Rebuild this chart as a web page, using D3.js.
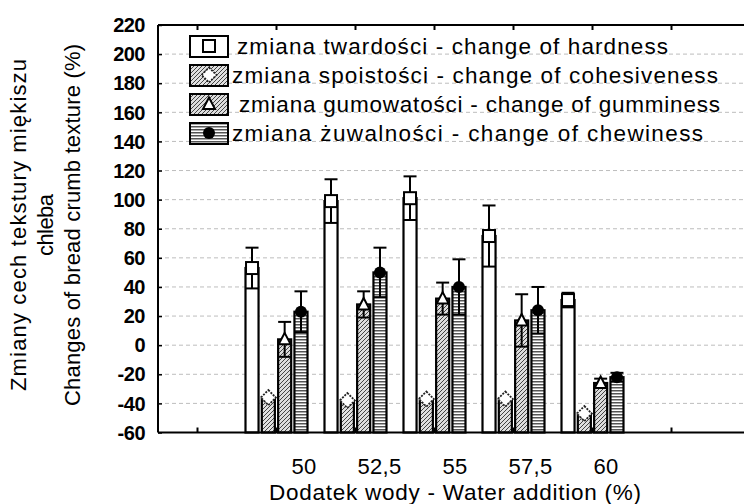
<!DOCTYPE html>
<html>
<head>
<meta charset="utf-8">
<script src="https://cdn.jsdelivr.net/npm/d3@7"></script>
<style>
  body { margin: 0; background: #fff; }
  svg { display: block; font-family: Arial, "Liberation Sans", sans-serif; }
</style>
</head>
<body>
<script>
const categories = ["50", "52,5", "55", "57,5", "60"];
const slots = ["", "50", "52,5", "55", "57,5", "60", " "];
const seriesNames = [
    "zmiana twardości - change of hardness",
    "zmiana spoistości - change of cohesiveness",
    "zmiana gumowatości - change of gumminess",
    "zmiana żuwalności - change of chewiness"
];
const hardness = [53, 99, 101, 75, 31];
const hardnessErr = [14, 15, 15, 21, 5];
const cohesiveness = [-36, -38, -37, -37, -47];
const cohesivenessErr = [0, 0, 0, 0, 0];
const gumminess = [4, 28, 32, 17, -26];
const gumminessErr = [12, 9, 11, 18, 3];
const chewiness = [23, 50, 40, 24, -22];
const chewinessErr = [14, 17, 19, 16, 3];
const yTicks = [-60, -40, -20, 0, 20, 40, 60, 80, 100, 120, 140, 160, 180, 200, 220];

const W = 744, H = 504;
const plotLeft = 158, plotTop = 25, plotBottom = 432.5;

const svg = d3.select("body").append("svg")
    .attr("width", W)
    .attr("height", H);

const defs = svg.append("defs");

// fine diagonal hatch (spoistość)
const p1 = defs.append("pattern").attr("id", "hatch1")
    .attr("patternUnits", "userSpaceOnUse").attr("width", 4).attr("height", 4);
p1.append("rect").attr("width", 4).attr("height", 4).attr("fill", "#e0e0e0");
p1.append("path").attr("d", "M-1,1 L1,-1 M0,4 L4,0 M3,5 L5,3")
    .attr("stroke", "#444").attr("stroke-width", 1);

// fine diagonal hatch (gumowatość)
const p2 = defs.append("pattern").attr("id", "hatch2")
    .attr("patternUnits", "userSpaceOnUse").attr("width", 4).attr("height", 4);
p2.append("rect").attr("width", 4).attr("height", 4).attr("fill", "#dcdcdc");
p2.append("path").attr("d", "M-1,1 L1,-1 M0,4 L4,0 M3,5 L5,3")
    .attr("stroke", "#444").attr("stroke-width", 1);

// horizontal stripes (żuwalność)
const p3 = defs.append("pattern").attr("id", "stripes")
    .attr("patternUnits", "userSpaceOnUse").attr("width", 6).attr("height", 3);
p3.append("rect").attr("width", 6).attr("height", 3).attr("fill", "#fff");
p3.append("rect").attr("width", 6).attr("height", 1.5).attr("fill", "#555");

const series = [
    { name: seriesNames[0], values: hardness, err: hardnessErr, fill: "#fff", marker: "square" },
    { name: seriesNames[1], values: cohesiveness, err: cohesivenessErr, fill: "url(#hatch1)", marker: "diamond" },
    { name: seriesNames[2], values: gumminess, err: gumminessErr, fill: "url(#hatch2)", marker: "triangle" },
    { name: seriesNames[3], values: chewiness, err: chewinessErr, fill: "url(#stripes)", marker: "circle" }
];

const x = d3.scaleBand()
    .domain(slots)
    .range([plotLeft, plotLeft + 7 * 79]);

const xSub = d3.scaleBand()
    .domain(d3.range(series.length))
    .range([-31, 31])
    .paddingInner(0.2);

const y = d3.scaleLinear()
    .domain([-60, 220])
    .range([plotBottom, plotTop]);

const xLabel = d3.scalePoint()
    .domain(categories)
    .range([304, 606]);

// gridlines
svg.append("g")
    .selectAll("line")
    .data(yTicks.filter(d => d > -60 && d < 220))
    .join("line")
    .attr("x1", plotLeft)
    .attr("x2", W)
    .attr("y1", d => y(d))
    .attr("y2", d => y(d))
    .attr("stroke", "#bdbdbd")
    .attr("stroke-width", 1)
    .attr("stroke-dasharray", "4,3");

// markers
function drawMarker(g, type, cx, cy) {
    if (type === "square") {
        g.append("rect")
            .attr("x", cx - 6).attr("y", cy - 6)
            .attr("width", 12).attr("height", 12)
            .attr("fill", "#fff").attr("stroke", "#000").attr("stroke-width", 2);
    } else if (type === "diamond") {
        g.append("path")
            .attr("d", `M${cx},${cy - 7.5} L${cx + 7.5},${cy} L${cx},${cy + 7.5} L${cx - 7.5},${cy} Z`)
            .attr("fill", "#fff").attr("stroke", "#222").attr("stroke-width", 1.8)
            .attr("stroke-dasharray", "2,1.2");
    } else if (type === "triangle") {
        g.append("path")
            .attr("d", `M${cx},${cy - 6.5} L${cx + 6},${cy + 5} L${cx - 6},${cy + 5} Z`)
            .attr("fill", "#fff").attr("stroke", "#000").attr("stroke-width", 2);
    } else {
        g.append("circle")
            .attr("cx", cx).attr("cy", cy).attr("r", 6)
            .attr("fill", "#000");
    }
}

// bars
const plot = svg.append("g");
series.forEach((s, si) => {
    const rows = categories.map((c, i) => ({ cat: c, v: s.values[i], e: s.err[i] }));
    const g = plot.append("g");
    g.selectAll("rect")
        .data(rows)
        .join("rect")
        .attr("x", d => x(d.cat) + x.bandwidth() / 2 + xSub(si))
        .attr("y", d => y(d.v))
        .attr("width", xSub.bandwidth())
        .attr("height", d => y(-60) - y(d.v))
        .attr("fill", s.fill)
        .attr("stroke", "#000")
        .attr("stroke-width", 2.2);

    rows.forEach(d => {
        const cx = x(d.cat) + x.bandwidth() / 2 + xSub(si) + xSub.bandwidth() / 2;
        if (d.e > 0) {
            const eg = g.append("g").attr("stroke", "#000").attr("stroke-width", 2);
            eg.append("line").attr("x1", cx).attr("x2", cx)
                .attr("y1", y(d.v + d.e)).attr("y2", y(d.v - d.e));
            [d.v + d.e, d.v - d.e].forEach(v => {
                eg.append("line").attr("x1", cx - 6.5).attr("x2", cx + 6.5)
                    .attr("y1", y(v)).attr("y2", y(v));
            });
        }
        drawMarker(g, s.marker, cx, y(d.v));
    });
});

// frame
const frame = svg.append("g").attr("stroke", "#000").attr("stroke-width", 2);
frame.append("line").attr("x1", plotLeft).attr("x2", W).attr("y1", plotTop).attr("y2", plotTop);
frame.append("line").attr("x1", plotLeft).attr("x2", W).attr("y1", plotBottom).attr("y2", plotBottom);
frame.append("line").attr("x1", plotLeft).attr("x2", plotLeft).attr("y1", plotTop).attr("y2", plotBottom);

// x ticks top and bottom (inward)
slots.forEach(s => {
    const cx = x(s) + x.bandwidth() / 2;
    frame.append("line").attr("x1", cx).attr("x2", cx).attr("y1", plotTop).attr("y2", plotTop + 5);
    frame.append("line").attr("x1", cx).attr("x2", cx).attr("y1", plotBottom).attr("y2", plotBottom - 5);
});

// y axis
svg.append("g")
    .attr("transform", `translate(${plotLeft},0)`)
    .call(d3.axisRight(y).tickValues(yTicks).tickSize(4).tickFormat(""))
    .call(g => g.select(".domain").remove())
    .call(g => g.selectAll("line").attr("stroke-width", 1.5));

svg.append("g")
    .selectAll("text")
    .data(yTicks)
    .join("text")
    .attr("x", 145)
    .attr("y", d => y(d))
    .attr("dy", "0.36em")
    .attr("text-anchor", "end")
    .attr("font-size", 20)
    .attr("font-weight", "bold")
    .attr("letter-spacing", -0.5)
    .text(d => d);

// x labels
svg.append("g")
    .selectAll("text")
    .data(categories)
    .join("text")
    .attr("x", d => xLabel(d))
    .attr("y", 466)
    .attr("dy", "0.35em")
    .attr("text-anchor", "middle")
    .attr("font-size", 22)
    .attr("letter-spacing", 0.3)
    .text(d => d);

svg.append("text")
    .attr("x", 455)
    .attr("y", 492)
    .attr("dy", "0.35em")
    .attr("text-anchor", "middle")
    .attr("font-size", 22.5)
    .attr("textLength", 372)
    .attr("lengthAdjust", "spacing")
    .text("Dodatek wody - Water addition (%)");

// y title
const yTitle = ["Zmiany cech tekstury miękiszu", "chleba", "Changes of bread crumb texture (%)"];
const yTitleLen = [332, 62, 362];
svg.append("g")
    .selectAll("text")
    .data(yTitle)
    .join("text")
    .attr("transform", (d, i) => `translate(${18 + i * 27},225) rotate(-90)`)
    .attr("dy", "0.35em")
    .attr("text-anchor", "middle")
    .attr("font-size", 22)
    .attr("textLength", (d, i) => yTitleLen[i])
    .attr("lengthAdjust", "spacing")
    .text(d => d);

// legend
const legendX = [237, 232, 239, 232];
const legendLen = [431, 486, 481, 471];
const legend = svg.append("g");
series.forEach((s, i) => {
    const cy = 46 + i * 29;
    legend.append("rect")
        .attr("x", 190).attr("y", cy - 10)
        .attr("width", 38).attr("height", 21)
        .attr("fill", s.fill)
        .attr("stroke", "#000").attr("stroke-width", 2);
    drawMarker(legend, s.marker, 209, cy);
    legend.append("text")
        .attr("x", legendX[i])
        .attr("y", cy)
        .attr("dy", "0.35em")
        .attr("font-size", 22.5)
        .attr("textLength", legendLen[i])
        .attr("lengthAdjust", "spacing")
        .text(s.name);
});
</script>
</body>
</html>
